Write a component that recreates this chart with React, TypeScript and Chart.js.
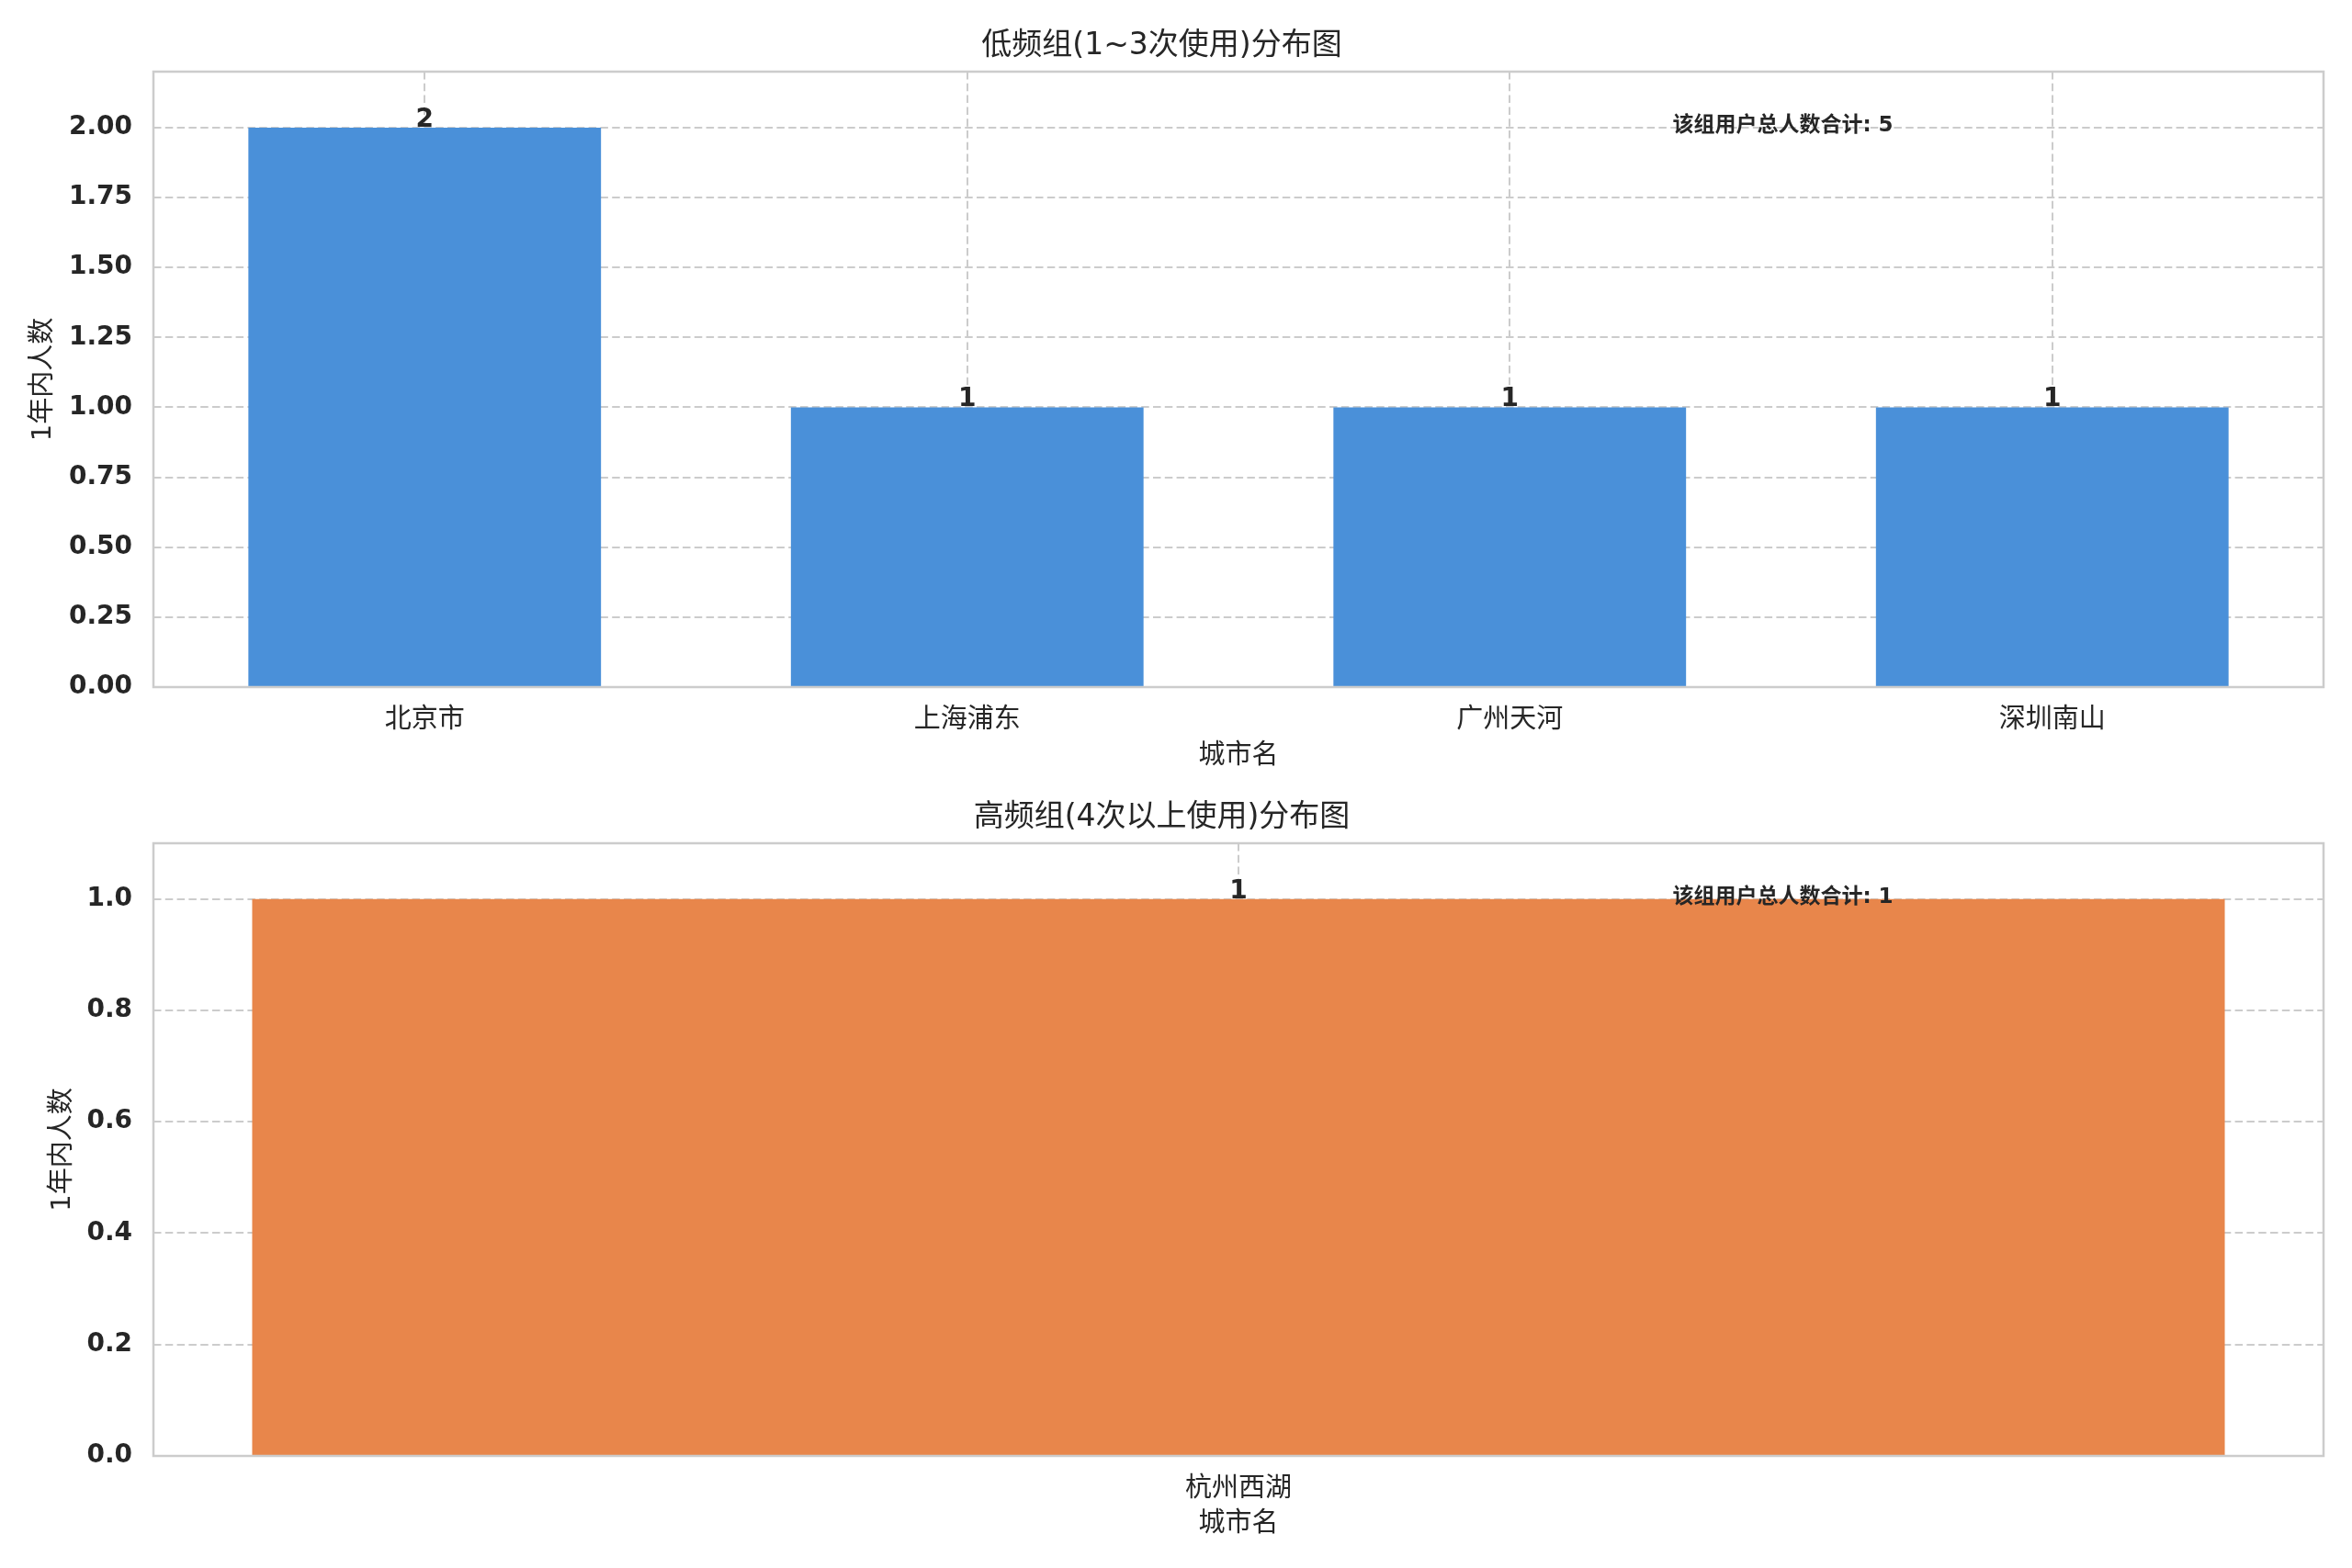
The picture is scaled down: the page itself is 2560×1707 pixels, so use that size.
import { useEffect, useRef } from "react"
import { Chart, registerables } from "chart.js"

Chart.register(...registerables)

const FONT = '"DejaVu Sans", "Noto Sans CJK SC", sans-serif'
const TEXT = "#262626"
const GRID = "#cccccc"

// 共通の軸ラベル
const xTitle = "城市名"
const yTitle = "1年内人数"
const noteLabel = "该组用户总人数合计"

// 上段
const topTitle = "低频组(1~3次使用)分布图"
const topCategories = ["北京市", "上海浦东", "广州天河", "深圳南山"]
const topValues = [2, 1, 1, 1]
const topTicks = [0, 0.25, 0.5, 0.75, 1, 1.25, 1.5, 1.75, 2]
const topMax = 2.2

// 下段
const bottomTitle = "高频组(4次以上使用)分布图"
const bottomCategories = ["杭州西湖"]
const bottomValues = [1]
const bottomTicks = [0, 0.2, 0.4, 0.6, 0.8, 1]
const bottomMax = 1.1

interface PanelProps {
  title: string
  categories: string[]
  values: number[]
  ticks: number[]
  max: number
  decimals: number
  color: string
  barPercentage: number
  height: number
  titleTop: number
  titleBottom: number
  xAxisHeight: number
  xTitlePad: number
  yTitlePad: number
}

const Panel = (p: PanelProps) => {
  const canvasRef = useRef<HTMLCanvasElement>(null)

  useEffect(() => {
    if (!canvasRef.current) return
    const total = p.values.reduce((a, b) => a + b, 0)

    // 枠線・値ラベル・合計の注記
    const overlay = {
      id: "overlay",
      afterDatasetsDraw(chart: Chart) {
        const { ctx, chartArea: a } = chart
        const meta = chart.getDatasetMeta(0)
        ctx.save()
        ctx.strokeStyle = GRID
        ctx.lineWidth = 2.5
        ctx.setLineDash([])
        ctx.strokeRect(a.left, a.top, a.right - a.left, a.bottom - a.top)

        ctx.fillStyle = TEXT
        ctx.font = `bold 28px ${FONT}`
        ctx.textAlign = "center"
        ctx.textBaseline = "alphabetic"
        meta.data.forEach((bar: any, i: number) => {
          ctx.fillText(String(p.values[i]), bar.x, bar.y - 1)
        })

        ctx.font = `bold 23px ${FONT}`
        ctx.textAlign = "left"
        ctx.textBaseline = "middle"
        ctx.fillText(
          `${noteLabel}: ${total}`,
          a.left + 0.7 * (a.right - a.left),
          a.bottom - 0.912 * (a.bottom - a.top)
        )
        ctx.restore()
      },
    }

    const chart = new Chart(canvasRef.current, {
      type: "bar",
      data: {
        labels: p.categories,
        datasets: [
          {
            data: p.values,
            backgroundColor: p.color,
            borderWidth: 0,
            barPercentage: p.barPercentage,
            categoryPercentage: 1,
          },
        ],
      },
      options: {
        animation: false,
        responsive: true,
        maintainAspectRatio: false,
        layout: { padding: { left: 0, right: 31, top: 0, bottom: 0 } },
        plugins: {
          legend: { display: false },
          tooltip: { enabled: false },
          title: {
            display: true,
            text: p.title,
            color: TEXT,
            font: { family: FONT, size: 33, weight: "normal" },
            padding: { top: p.titleTop, bottom: p.titleBottom },
          },
        },
        scales: {
          x: {
            offset: true,
            grid: { offset: false, color: GRID, lineWidth: 2, drawTicks: false },
            border: { display: false, dash: [8.5, 4.3] },
            ticks: { color: TEXT, font: { family: FONT, size: 29 }, padding: 19 },
            title: {
              display: true,
              text: xTitle,
              color: TEXT,
              font: { family: FONT, size: 29 },
              padding: { top: 0, bottom: p.xTitlePad },
            },
            afterFit: (s: any) => {
              s.height = p.xAxisHeight
            },
          },
          y: {
            min: 0,
            max: p.max,
            afterBuildTicks: (s: any) => {
              s.ticks = p.ticks.map((v) => ({ value: v }))
            },
            grid: { color: GRID, lineWidth: 2, drawTicks: false },
            border: { display: false, dash: [8.5, 4.3] },
            ticks: {
              color: TEXT,
              font: { family: FONT, size: 28, weight: "bold" },
              padding: 23,
              callback: (v: any) => Number(v).toFixed(p.decimals),
            },
            title: {
              display: true,
              text: yTitle,
              color: TEXT,
              font: { family: FONT, size: 29 },
              padding: { top: p.yTitlePad, bottom: 0 },
            },
            afterFit: (s: any) => {
              s.width = 167
            },
          },
        },
      },
      plugins: [overlay],
    })

    return () => {
      chart.destroy()
    }
  }, [p])

  return (
    <div style={{ position: "relative", width: 2560, height: p.height }}>
      <canvas ref={canvasRef}></canvas>
    </div>
  )
}

const topProps: PanelProps = {
  title: topTitle,
  categories: topCategories,
  values: topValues,
  ticks: topTicks,
  max: topMax,
  decimals: 2,
  color: "#4a90d9",
  barPercentage: 0.65,
  height: 854,
  titleTop: 31,
  titleBottom: 7.4,
  xAxisHeight: 106,
  xTitlePad: 13.6,
  yTitlePad: 29.6,
}

const bottomProps: PanelProps = {
  title: bottomTitle,
  categories: bottomCategories,
  values: bottomValues,
  ticks: bottomTicks,
  max: bottomMax,
  decimals: 1,
  color: "#e8864b",
  barPercentage: 0.909,
  height: 853,
  titleTop: 16.2,
  titleBottom: 8.2,
  xAxisHeight: 122,
  xTitlePad: 30.6,
  yTitlePad: 50.6,
}

export default function App() {
  return (
    <div
      style={{
        position: "absolute",
        left: 0,
        top: 0,
        width: 2560,
        height: 1707,
        background: "#ffffff",
      }}
    >
      <Panel {...topProps} />
      <Panel {...bottomProps} />
    </div>
  )
}
